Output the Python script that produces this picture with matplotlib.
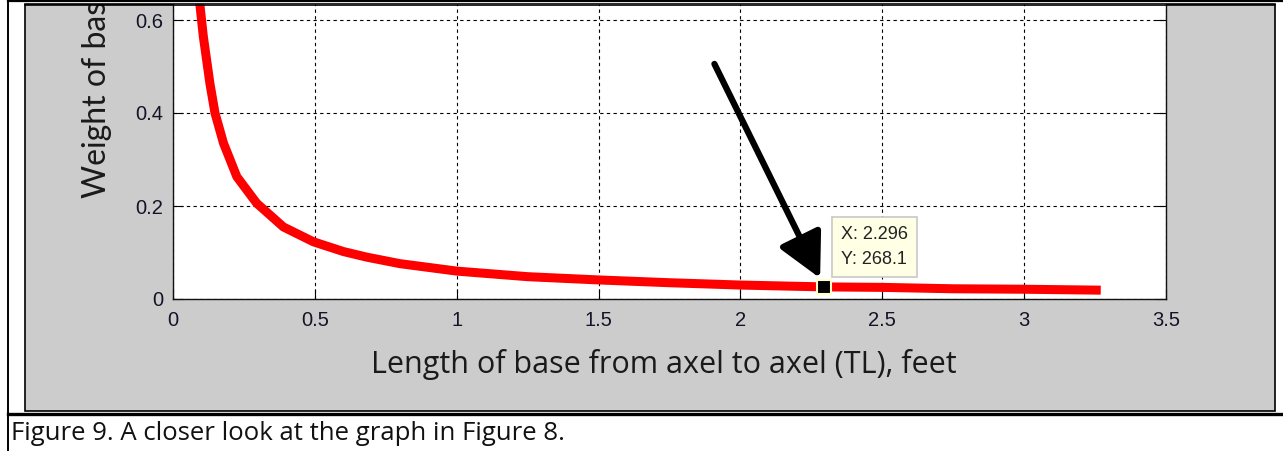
import matplotlib
matplotlib.use('Agg')
import matplotlib.pyplot as plt
from matplotlib.patches import Rectangle
from matplotlib.lines import Line2D
from matplotlib.transforms import Bbox, TransformedBbox

# values
length_ft = [0.093, 0.107, 0.130, 0.148, 0.178, 0.225, 0.295, 0.389, 0.495, 0.601,
             0.683, 0.80, 1.00, 1.25, 1.50, 1.75, 2.00, 2.296, 2.50, 2.75, 3.00, 3.27]
weight = [0.643, 0.564, 0.464, 0.400, 0.335, 0.263, 0.206, 0.155, 0.123, 0.102,
          0.090, 0.076, 0.060, 0.048, 0.041, 0.035, 0.030, 0.026, 0.025, 0.022, 0.021, 0.019]
cursor_idx = 17
cursor_text = 'X: 2.296\nY: 268.1'
x_ticks = [0, 0.5, 1, 1.5, 2, 2.5, 3, 3.5]
y_ticks = [0, 0.2, 0.4, 0.6]
x_label = 'Length of base from axel to axel (TL), feet'
y_label = 'Weight of base, lb'
caption = 'Figure 9. A closer look at the graph in Figure 8.'

W, H = 1283, 451
fig = plt.figure(figsize=(W / 100, H / 100), dpi=100)
fig.patch.set_facecolor('white')


def fx(x):
    return x / W


def fy(y):
    return 1 - y / H


# grey figure panel
panel = Rectangle((fx(25), fy(411)), fx(1275) - fx(25), fy(4) - fy(411),
                  transform=fig.transFigure, facecolor='#cccccc', edgecolor='black',
                  linewidth=1.2, zorder=-1)
fig.add_artist(panel)

# axes
ax = fig.add_axes([fx(173), fy(299), fx(1166) - fx(173), fy(4) - fy(299)])
ax.set_facecolor('white')
ax.plot(length_ft, weight, color='red', linewidth=6.5, solid_capstyle='butt',
        solid_joinstyle='round', zorder=3)
ax.set_xlim(0, 3.5)
ax.set_ylim(0, 295 / 465)
ax.set_xticks(x_ticks)
ax.set_xticklabels(['0', '0.5', '1', '1.5', '2', '2.5', '3', '3.5'])
ax.set_yticks(y_ticks)
ax.set_yticklabels(['0', '0.2', '0.4', '0.6'])
ax.grid(True, color='black', linestyle=(0, (3, 3)), linewidth=0.8)
ax.tick_params(direction='in', length=7, width=0.8, right=True, top=False,
               labelsize=14.5, labelcolor='#141428', pad=7)
ax.tick_params(axis='x', pad=9)
for lab in ax.get_xticklabels() + ax.get_yticklabels():
    lab.set_family('Liberation Sans')
for s in ax.spines.values():
    s.set_linewidth(1.0)
    s.set_color('#111111')
ax.spines['top'].set_visible(False)

# data cursor
cx, cy = length_ft[cursor_idx], weight[cursor_idx]
ax.plot([cx], [cy], marker='s', markersize=10, color='black', markeredgecolor='#ffffcc',
        markeredgewidth=1.5, zorder=5)
ax.annotate(cursor_text, xy=(cx, cy), xytext=(17, 19), textcoords='offset pixels',
            ha='left', va='bottom', fontsize=13, family='Liberation Sans', color='#222222',
            linespacing=1.6,
            bbox=dict(boxstyle='square,pad=0.5', facecolor='#ffffe6', edgecolor='#c8c8c8',
                      linewidth=1.2),
            zorder=6)
ax.annotate('', xy=(cx, cy), xytext=(-110, 223), textcoords='offset pixels',
            arrowprops=dict(arrowstyle='-|>,head_length=1.35,head_width=0.7',
                            mutation_scale=20, color='black', linewidth=4.5,
                            shrinkA=0, shrinkB=7),
            zorder=6)

# axis labels in figure units
fig.text(fx(664), fy(373), x_label, ha='center', va='baseline', fontsize=22,
         family='Open Sans', color='#1a1a1a')
yl = fig.text(fx(97), fy(198), y_label, ha='center', va='bottom', rotation=90,
              fontsize=23, family='Lato', color='#1a1a1a', clip_on=True)
yl.set_clip_box(TransformedBbox(Bbox([[fx(25), fy(411)], [fx(1275), fy(4)]]),
                                fig.transFigure))

# document table borders
fig.add_artist(Line2D([fx(8), 1], [fy(1), fy(1)], transform=fig.transFigure,
                      color='black', linewidth=1.6, zorder=10))
fig.add_artist(Line2D([fx(25), fx(1275)], [fy(4.5), fy(4.5)], transform=fig.transFigure,
                      color='black', linewidth=1.2, zorder=10))
fig.add_artist(Line2D([fx(8), fx(8)], [0, 1], transform=fig.transFigure,
                      color='black', linewidth=1.4, zorder=10))
fig.add_artist(Line2D([fx(8), 1], [fy(414), fy(414)], transform=fig.transFigure,
                      color='black', linewidth=2.4, zorder=10))

fig.text(fx(11), fy(440), caption, ha='left', va='baseline', fontsize=18.5,
         family='Open Sans', color='#111111')

plt.savefig('out.png', dpi=100)
